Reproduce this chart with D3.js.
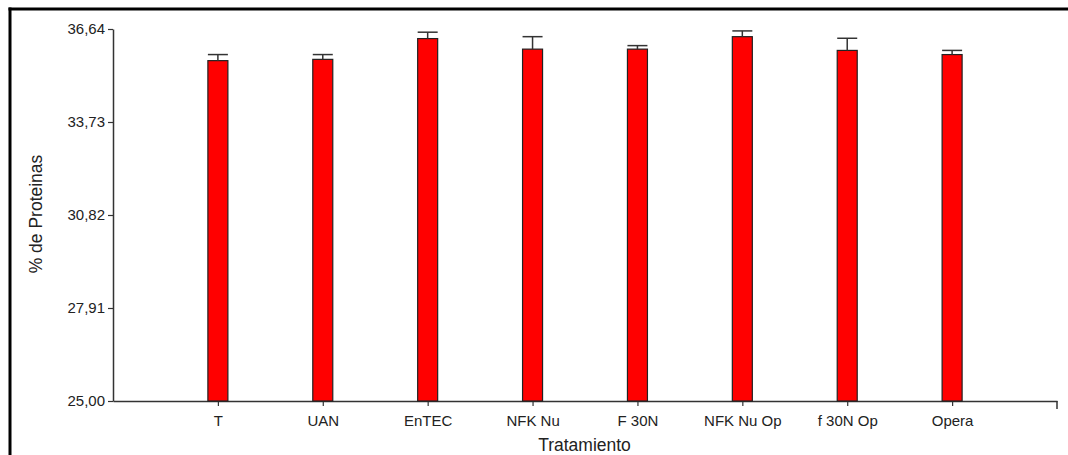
<!DOCTYPE html>
<html>
<head>
<meta charset="utf-8">
<script src="https://cdn.jsdelivr.net/npm/d3@7"></script>
<style>
  html, body { margin: 0; padding: 0; background: #fff; overflow: hidden; }
  svg { display: block; font-family: "Liberation Sans", Arial, sans-serif; }
</style>
</head>
<body>
<svg id="chart" width="1068" height="455"></svg>
<script>
// Protein content (%) by treatment, with error bar half-widths
const categories = ["T", "UAN", "EnTEC", "NFK Nu", "F 30N", "NFK Nu Op", "f 30N Op", "Opera"];
const means = [35.65, 35.69, 36.34, 36.01, 36.01, 36.40, 35.97, 35.84];
const errors = [0.19, 0.15, 0.20, 0.39, 0.11, 0.18, 0.38, 0.13];
const yTickValues = [25.00, 27.91, 30.82, 33.73, 36.64];

const svg = d3.select("#chart");
const W = 1068, H = 455;
const margin = { left: 113, right: 11, top: 29, bottom: 54 };

// outer frame: top and left edges
const frame = svg.append("g").attr("stroke", "#000").attr("stroke-width", 3);
frame.append("line").attr("x1", 8.5).attr("x2", W).attr("y1", 9).attr("y2", 9);
frame.append("line").attr("x1", 10).attr("x2", 10).attr("y1", 7.5).attr("y2", H);

// categories sit at positions 1..n on a 0..n+1 scale
const x = d3.scaleLinear()
  .domain([0, categories.length + 1])
  .range([margin.left, W - margin.right]);
const y = d3.scaleLinear()
  .domain([25, 36.64])
  .range([H - margin.bottom, margin.top]);

const fmt = d => d.toFixed(2).replace(".", ",");

const yAxis = svg.append("g")
  .attr("transform", `translate(${margin.left},0)`)
  .call(d3.axisLeft(y).tickValues(yTickValues).tickFormat(fmt).tickSize(5).tickSizeOuter(0));

const xAxis = svg.append("g")
  .attr("transform", `translate(0,${H - margin.bottom})`)
  .call(d3.axisBottom(x)
    .tickValues(d3.range(1, categories.length + 1))
    .tickFormat(i => categories[i - 1])
    .tickSize(5).tickSizeOuter(0));

// end tick at the right of the x axis
xAxis.append("line")
  .attr("x1", x(categories.length + 1)).attr("x2", x(categories.length + 1))
  .attr("y1", 0).attr("y2", 8)
  .attr("stroke", "#333").attr("stroke-width", 1.5);

[yAxis, xAxis].forEach(g => {
  g.select(".domain").attr("stroke", "#333").attr("stroke-width", 1.5);
  g.selectAll(".tick line").attr("stroke", "#333").attr("stroke-width", 1.2);
  g.selectAll("text").attr("fill", "#222").style("font-size", "15px")
    .style("font-family", "\"Liberation Sans\", Arial, sans-serif");
});
yAxis.selectAll(".tick text").attr("x", -8).attr("dy", "0.3em");
xAxis.selectAll(".tick text").attr("y", 25).attr("dy", null);

// bars
const barW = 20;
svg.append("g").selectAll("rect")
  .data(means)
  .join("rect")
  .attr("x", (d, i) => x(i + 1) - barW / 2)
  .attr("y", d => y(d))
  .attr("width", barW)
  .attr("height", d => y(25) - y(d))
  .attr("fill", "#ff0000")
  .attr("stroke", "#222")
  .attr("stroke-width", 1.2);

// error bars (upper only)
const eg = svg.append("g").attr("stroke", "#333").attr("stroke-width", 1.5);
means.forEach((m, i) => {
  const cx = x(i + 1);
  eg.append("line").attr("x1", cx).attr("x2", cx)
    .attr("y1", y(m)).attr("y2", y(m + errors[i]));
  eg.append("line").attr("x1", cx - barW / 2).attr("x2", cx + barW / 2)
    .attr("y1", y(m + errors[i])).attr("y2", y(m + errors[i]));
});

// axis titles
svg.append("text")
  .attr("x", 584.5)
  .attr("y", 451)
  .attr("text-anchor", "middle")
  .attr("fill", "#222")
  .style("font-size", "17.5px")
  .text("Tratamiento");

svg.append("text")
  .attr("transform", `translate(42,214) rotate(-90)`)
  .attr("text-anchor", "middle")
  .attr("fill", "#222")
  .style("font-size", "17.5px")
  .text("% de Proteinas");
</script>
</body>
</html>
